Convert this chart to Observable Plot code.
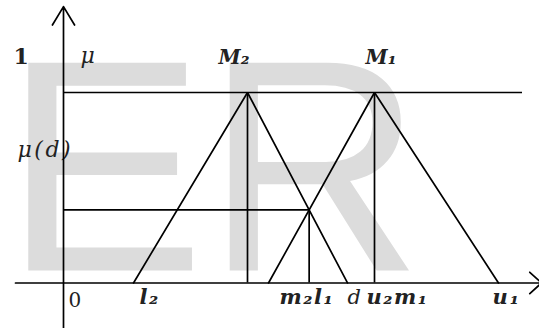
<!DOCTYPE html>
<html><head><meta charset="utf-8">
<script src="https://cdn.jsdelivr.net/npm/d3@7"></script>
<script src="https://cdn.jsdelivr.net/npm/@observablehq/plot@0.6"></script>
<style>html,body{margin:0;padding:0;background:#fff}svg{display:block}</style>
</head><body><div id="chart"></div>
<script>
// Triangular fuzzy numbers M = (l, m, u), membership 0..1
const M1 = [205, 311, 435];   // l1, m1, u1
const M2 = [70, 184, 284];    // l2, m2, u2
const topLineEnd = 459;       // extent of the mu = 1 guide line
const xAxisExtent = [-48, 478];
const yAxisExtent = [-0.239, 1.451];

// labels
const xTickLabels = ["0", "l₂", "m₂l₁", "d", "u₂m₁", "u₁"];
const xTickAt = [5, 76, 216, 284, 303, 429];
const peakLabels = ["M₂", "M₁"];
const peakLabelAt = [155, 302];
const yLabels = ["1", "μ", "μ(d)"];
const yLabelAtX = [-50, 17, -46];
const watermark = ["ER"];

const [l1, m1, u1] = M1;
const [l2, m2, u2] = M2;
// intersection of right side of M2 with left side of M1
const muD = (l1 - u2) / ((m2 - u2) - (m1 - l1));
const d = u2 + muD * (m2 - u2);

const tri = (l, m, u) => [{x: l, y: 0}, {x: m, y: 1}, {x: u, y: 0}];
const yLabelAtY = [1, 1, muD];

const serif = "'DejaVu Serif', serif";
const sw = 1.7;

const yRows = yLabels.map((t, i) => ({t, x: yLabelAtX[i], y: yLabelAtY[i]}));
const xRows = xTickLabels.map((t, i) => ({t, x: xTickAt[i]}));
const pRows = peakLabels.map((t, i) => ({t, x: peakLabelAt[i]}));

const txt = (rows, opts) => Plot.text(rows, {x: "x", text: "t", textAnchor: "start",
  lineAnchor: "bottom", fontFamily: serif, fill: "#222", ...opts});

const chart = Plot.plot({
  width: 539, height: 328,
  marginTop: 0, marginRight: 0, marginBottom: 0, marginLeft: 0,
  x: {domain: [-63, 476], range: [0, 539], axis: null},
  y: {domain: [-0.239, 1.483], range: [328, 0], axis: null},
  style: {background: "white", overflow: "visible"},
  marks: [
    Plot.text(watermark, {text: d => d, frameAnchor: "top-left", dx: 3, dy: 270,
      textAnchor: "start", lineAnchor: "bottom", fontSize: 302,
      fontFamily: "'Liberation Sans', Arial, sans-serif", fill: "#dcdcdc"}),
    // y-side labels
    txt(yRows.filter(r => r.t === "1"), {y: "y", dy: -29, fontSize: 22, fontWeight: "bold"}),
    txt(yRows.filter(r => r.t === "μ"), {y: "y", dy: -30, fontSize: 22, fontStyle: "italic"}),
    txt(yRows.filter(r => r.t === "μ(d)"), {y: "y", dy: -53, fontSize: 22, fontStyle: "italic"}),
    // peak labels
    txt(pRows, {y: 1, dy: -29, fontSize: 20, fontStyle: "italic", fontWeight: "bold"}),
    // x labels
    txt(xRows.filter(r => r.t === "0"), {y: 0, dy: 24, fontSize: 20}),
    txt(xRows.filter(r => r.t === "d"), {y: 0, dy: 21, fontSize: 21, fontStyle: "italic"}),
    txt(xRows.filter(r => r.t !== "0" && r.t !== "d"), {y: 0, dy: 21, fontSize: 21,
      fontStyle: "italic", fontWeight: "bold"}),
    // guides
    Plot.ruleY([1], {x1: 0, x2: topLineEnd, stroke: "black", strokeWidth: sw}),
    Plot.ruleY([muD], {x1: 0, x2: d, stroke: "black", strokeWidth: sw}),
    Plot.ruleX([m2, m1], {y1: 0, y2: 1, stroke: "black", strokeWidth: sw}),
    Plot.ruleX([d], {y1: 0, y2: muD, stroke: "black", strokeWidth: sw}),
    // triangles
    Plot.line(tri(l2, m2, u2), {x: "x", y: "y", stroke: "black", strokeWidth: sw, strokeLinejoin: "miter"}),
    Plot.line(tri(l1, m1, u1), {x: "x", y: "y", stroke: "black", strokeWidth: sw, strokeLinejoin: "miter"}),
    // axes
    Plot.arrow([0], {x1: xAxisExtent[0], x2: xAxisExtent[1], y1: 0, y2: 0,
      stroke: "black", strokeWidth: sw, headAngle: 85, headLength: 14}),
    Plot.arrow([0], {x1: 0, x2: 0, y1: yAxisExtent[0], y2: yAxisExtent[1],
      stroke: "black", strokeWidth: sw, headAngle: 62, headLength: 19})
  ]
});
// wider spacing, like the math font of the original
const spaced = {"μ(d)": "2.5px", "m₂l₁": "1.5px", "u₂m₁": "1.5px", "u₁": "2px", "l₂": "1.5px", "μ": "1px"};
d3.select(chart).selectAll("text").each(function() {
  const s = spaced[this.textContent];
  if (s) this.setAttribute("letter-spacing", s);
});
document.getElementById("chart").appendChild(chart);
</script>
</body></html>
